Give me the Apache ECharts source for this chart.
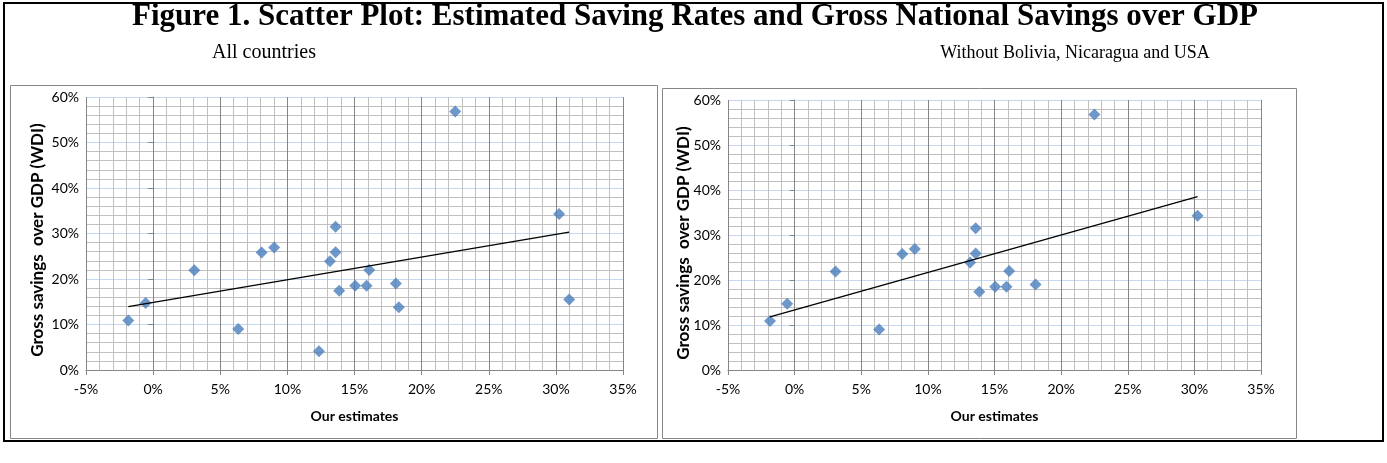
<!DOCTYPE html>
<html><head><meta charset="utf-8">
<script src="https://cdn.jsdelivr.net/npm/echarts@6/dist/echarts.min.js"></script>
<style>html,body{margin:0;padding:0;background:#fff}#c{width:1387px;height:463px}</style>
</head><body><div id="c"></div>
<script>
// ---- data (percent units) ----
const allCountriesX = [-1.85, -0.56, 3.07, 6.34, 8.08, 9.02, 12.35, 13.17, 13.59, 13.59, 13.86, 15.05, 15.9, 16.1, 18.08, 18.3, 22.5, 30.24, 30.99];
const allCountriesY = [10.9, 14.7, 21.9, 9.0, 25.8, 26.9, 4.1, 23.9, 31.5, 25.9, 17.4, 18.5, 18.5, 22.0, 19.0, 13.8, 56.8, 34.3, 15.5];
const subsetX = [-1.85, -0.56, 3.07, 6.34, 8.08, 9.02, 13.17, 13.59, 13.59, 13.86, 15.05, 15.9, 16.1, 18.08, 22.5, 30.24];
const subsetY = [10.9, 14.7, 21.9, 9.0, 25.8, 26.9, 23.9, 31.5, 25.9, 17.4, 18.5, 18.5, 22.0, 19.0, 56.8, 34.3];
const xTickValues = [-5, 0, 5, 10, 15, 20, 25, 30, 35];
const yTickValues = [0, 10, 20, 30, 40, 50, 60];
const titleText = 'Figure 1. Scatter Plot: Estimated Saving Rates and Gross National Savings over GDP';
const subtitleLeft = 'All countries';
const subtitleRight = 'Without Bolivia, Nicaragua and USA';
const xName = 'Our estimates';
const yName = 'Gross savings  over GDP (WDI)';

function pairs(xs, ys) { return xs.map((x, i) => [x, ys[i]]); }
function trend(xs, ys) {
  const n = xs.length;
  const mx = xs.reduce((a, b) => a + b, 0) / n;
  const my = ys.reduce((a, b) => a + b, 0) / n;
  let sxy = 0, sxx = 0;
  for (let i = 0; i < n; i++) { sxy += (xs[i] - mx) * (ys[i] - my); sxx += (xs[i] - mx) ** 2; }
  const b = sxy / sxx, a = my - b * mx;
  const x0 = Math.min(...xs), x1 = Math.max(...xs);
  return [[x0, a + b * x0], [x1, a + b * x1]];
}

const labelFont = 'Lato';
const gray = '#868686';
function xAxisFor(gi) {
  return {
    gridIndex: gi, type: 'value', min: xTickValues[0], max: xTickValues[xTickValues.length - 1], interval: 5,
    minorTick: { show: false, splitNumber: 5 },
    minorSplitLine: { show: true, lineStyle: { color: '#C0C0C0', width: 1 } },
    splitLine: { show: true, lineStyle: { color: gray, width: 1 } },
    axisLine: { show: true, onZero: false, lineStyle: { color: gray } },
    axisTick: { show: true, length: 5, lineStyle: { color: gray } },
    axisLabel: { formatter: '{value}%', color: '#000', fontFamily: labelFont, fontSize: 14, margin: 12 },
    name: xName, nameLocation: 'middle', nameGap: 39, nameMoveOverlap: false,
    nameTextStyle: { fontFamily: labelFont, fontWeight: 'bold', fontSize: 14, color: '#000' }
  };
}
function yAxisFor(gi) {
  return {
    gridIndex: gi, type: 'value', min: yTickValues[0], max: yTickValues[yTickValues.length - 1], interval: 10,
    minorTick: { show: false, splitNumber: 5 },
    minorSplitLine: { show: true, lineStyle: { color: '#C0C0C0', width: 1 } },
    splitLine: { show: true, lineStyle: { color: '#C6D9F1', width: 1 } },
    axisLine: { show: true, onZero: true, lineStyle: { color: gray } },
    axisTick: { show: true, length: 5, lineStyle: { color: gray } },
    axisLabel: { formatter: '{value}%', color: '#000', fontFamily: labelFont, fontSize: 14, margin: 7 }
  };
}
function scatter(gi, xs, ys) {
  return {
    type: 'scatter', xAxisIndex: gi, yAxisIndex: gi, data: pairs(xs, ys),
    symbol: 'diamond', symbolSize: 12, itemStyle: { color: '#4A7EBB' }, z: 3
  };
}
function trendSeries(gi, xs, ys) {
  return {
    type: 'line', xAxisIndex: gi, yAxisIndex: gi, data: trend(xs, ys), showSymbol: false, symbol: 'none',
    lineStyle: { color: '#000', width: 1.3 }, z: 4, silent: true
  };
}
function txt(x, y, text, font, rot) {
  return { type: 'text', x: x, y: y, rotation: rot || 0, silent: true, z: 10,
    style: { text: text, font: font, fill: '#000', align: 'center', verticalAlign: 'middle', textAlign: 'center', textVerticalAlign: 'middle' } };
}
function box(x, y, w, h, color, lw) {
  return { type: 'rect', silent: true, z: -1, shape: { x: x, y: y, width: w, height: h },
    style: { fill: 'none', stroke: color, lineWidth: lw } };
}

const chart = echarts.init(document.getElementById('c'), null, { renderer: 'canvas' });
chart.setOption({
  animation: false,
  backgroundColor: '#fff',
  grid: [
    { left: 86, top: 97, width: 537, height: 273, containLabel: false, outerBoundsMode: 'none' },
    { left: 728, top: 100, width: 533, height: 270, containLabel: false, outerBoundsMode: 'none' }
  ],
  xAxis: [xAxisFor(0), xAxisFor(1)],
  yAxis: [yAxisFor(0), yAxisFor(1)],
  series: [
    scatter(0, allCountriesX, allCountriesY), trendSeries(0, allCountriesX, allCountriesY),
    scatter(1, subsetX, subsetY), trendSeries(1, subsetX, subsetY)
  ],
  graphic: [
    box(4, 3, 1379, 438, '#000', 2),
    box(10.5, 85.5, 647, 353, gray, 1),
    box(662.5, 88.5, 634, 350, gray, 1),
    txt(695, 17, titleText, 'bold 31px "Liberation Serif"'),
    txt(264, 53, subtitleLeft, '20px "Liberation Serif"'),
    txt(1075, 53, subtitleRight, '18px "Liberation Serif"'),
    txt(38, 240, yName, 'bold 17px Lato', Math.PI / 2),
    txt(684, 243, yName, 'bold 17px Lato', Math.PI / 2)
  ]
});
</script></body></html>
